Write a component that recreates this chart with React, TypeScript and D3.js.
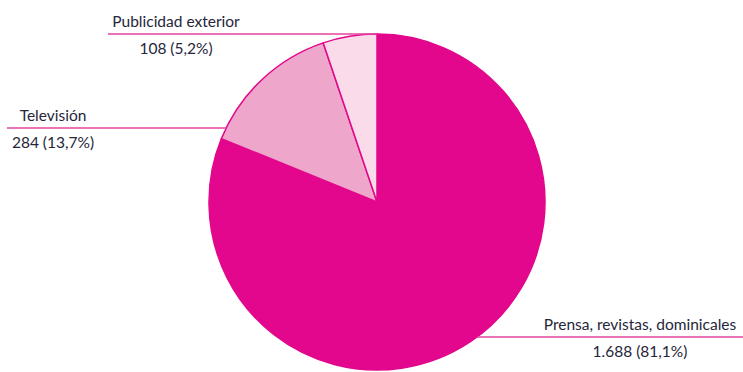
import React from "react";
import * as d3 from "d3";

const categories = ["Prensa, revistas, dominicales", "Televisión", "Publicidad exterior"];
const values = [1688, 284, 108];
const valueLabels = ["1.688 (81,1%)", "284 (13,7%)", "108 (5,2%)"];
const colors = ["#e2078c", "#eea7cb", "#f9dbea"];

const W = 743, H = 372;
const cx = 377, cy = 202, R = 168;

const labelLayout = [
  { lineY: 337, outerX: 743, textX: 640, side: 1 },
  { lineY: 128, outerX: 7, textX: 53, side: -1 },
  { lineY: 34, outerX: 108, textX: 176, side: -1 },
];

export default function App() {
  const pie = d3.pie<number>().sort(null).startAngle(0).endAngle(2 * Math.PI);
  const arcs = pie(values);
  const arc = d3.arc<d3.PieArcDatum<number>>().innerRadius(0).outerRadius(R);
  return (
    <svg width={W} height={H} style={{ position: "absolute", left: 0, top: 0, background: "#fff" }}>
      <g transform={`translate(${cx},${cy})`}>
        {arcs.map((a, i) => (
          <path key={i} d={arc(a) || ""} fill={colors[i]} stroke="#e2078c" strokeWidth={1.5} strokeLinejoin="round" />
        ))}
      </g>
      {labelLayout.map((l, i) => {
        const dy = l.lineY - cy;
        const dx = Math.sqrt(Math.max(0, R * R - dy * dy));
        const edgeX = cx + l.side * dx;
        return (
          <g key={i} fontFamily="Lato, 'Open Sans', sans-serif" fontSize={15.5} fill="#26263a" textAnchor="middle">
            <line x1={l.outerX} x2={edgeX} y1={l.lineY} y2={l.lineY} stroke="#e2449c" strokeWidth={1.5} />
            <text x={l.textX} y={l.lineY - 7}>{categories[i]}</text>
            <text x={l.textX} y={l.lineY + 20}>{valueLabels[i]}</text>
          </g>
        );
      })}
    </svg>
  );
}
